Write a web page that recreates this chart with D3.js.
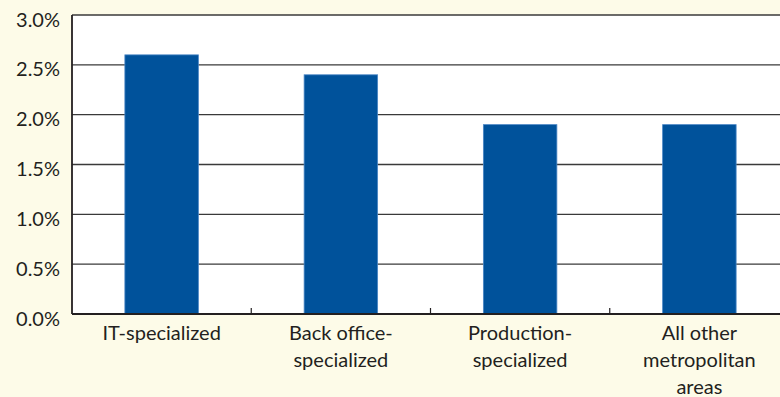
<!DOCTYPE html>
<html>
<head>
<meta charset="utf-8">
<script src="https://cdn.jsdelivr.net/npm/d3@7"></script>
<style>
  html, body { margin: 0; padding: 0; background: #fdfbe8; }
  svg { display: block; }
  text { font-family: Lato, "Open Sans", sans-serif; fill: #231f20; }
</style>
</head>
<body>
<svg id="chart" width="780" height="397"></svg>
<script>
// Employment growth by metro specialization
const categories = [
  ["IT-specialized"],
  ["Back office-", "specialized"],
  ["Production-", "specialized"],
  ["All other", "metropolitan", "areas"]
];
const values = [2.6, 2.4, 1.9, 1.9];
const yTicks = [0, 0.5, 1.0, 1.5, 2.0, 2.5, 3.0];

const svg = d3.select("#chart");
const margin = { left: 72, top: 15, bottom: 83 };
const plotW = 717;
const plotH = 397 - margin.top - margin.bottom;

const g = svg.append("g").attr("transform", `translate(${margin.left},${margin.top})`);

const x = d3.scaleBand()
  .domain(categories.map((d, i) => i))
  .range([0, plotW])
  .paddingInner(0.59)
  .paddingOuter(0.295);

const y = d3.scaleLinear().domain([0, 3.0]).range([plotH, 0]);

// plot background
g.append("rect")
  .attr("width", plotW).attr("height", plotH)
  .attr("fill", "#ffffff");

// horizontal gridlines
g.selectAll("line.grid")
  .data(yTicks.filter(t => t > 0))
  .join("line")
  .attr("class", "grid")
  .attr("x1", 0).attr("x2", plotW)
  .attr("y1", d => y(d)).attr("y2", d => y(d))
  .attr("stroke", "#3a3a3a")
  .attr("stroke-width", 1.3);

// bars
g.selectAll("rect.bar")
  .data(values)
  .join("rect")
  .attr("class", "bar")
  .attr("x", (d, i) => x(i))
  .attr("width", x.bandwidth())
  .attr("y", d => y(d))
  .attr("height", d => plotH - y(d))
  .attr("fill", "#00529b")
  .attr("stroke", "#4a86c5")
  .attr("stroke-width", 0.8);

// y axis
const yAxis = d3.axisLeft(y)
  .tickValues(yTicks)
  .tickSize(0)
  .tickPadding(12)
  .tickFormat(d => d.toFixed(1) + "%");
const ya = g.append("g").call(yAxis);
ya.select(".domain").remove();
ya.selectAll("text")
  .attr("dy", "0.55em")
  .attr("font-size", 20)
  .style("font-family", "Lato, 'Open Sans', sans-serif")
  .attr("fill", "#231f20");

// category separator ticks on the baseline
const bandStep = x.step();
const sepX = d3.range(1, categories.length).map(i => x(i) - x.paddingInner() * bandStep / 2);
g.selectAll("line.sep")
  .data(sepX)
  .join("line")
  .attr("class", "sep")
  .attr("x1", d => d).attr("x2", d => d)
  .attr("y1", plotH - 6).attr("y2", plotH)
  .attr("stroke", "#231f20")
  .attr("stroke-width", 1.2);

// axis lines
g.append("line")
  .attr("x1", 0).attr("x2", 0).attr("y1", 0).attr("y2", plotH)
  .attr("stroke", "#231f20").attr("stroke-width", 1.8);
g.append("line")
  .attr("x1", 0).attr("x2", plotW).attr("y1", plotH).attr("y2", plotH)
  .attr("stroke", "#231f20").attr("stroke-width", 1.8);

// category labels
const labels = g.selectAll("text.cat")
  .data(categories)
  .join("text")
  .attr("class", "cat")
  .attr("text-anchor", "middle")
  .attr("font-size", 20)
  .attr("transform", (d, i) => `translate(${x(i) + x.bandwidth() / 2},${plotH + 26})`);
labels.selectAll("tspan")
  .data(d => d)
  .join("tspan")
  .attr("x", 0)
  .attr("y", (d, j) => j * 27)
  .text(d => d);
</script>
</body>
</html>
